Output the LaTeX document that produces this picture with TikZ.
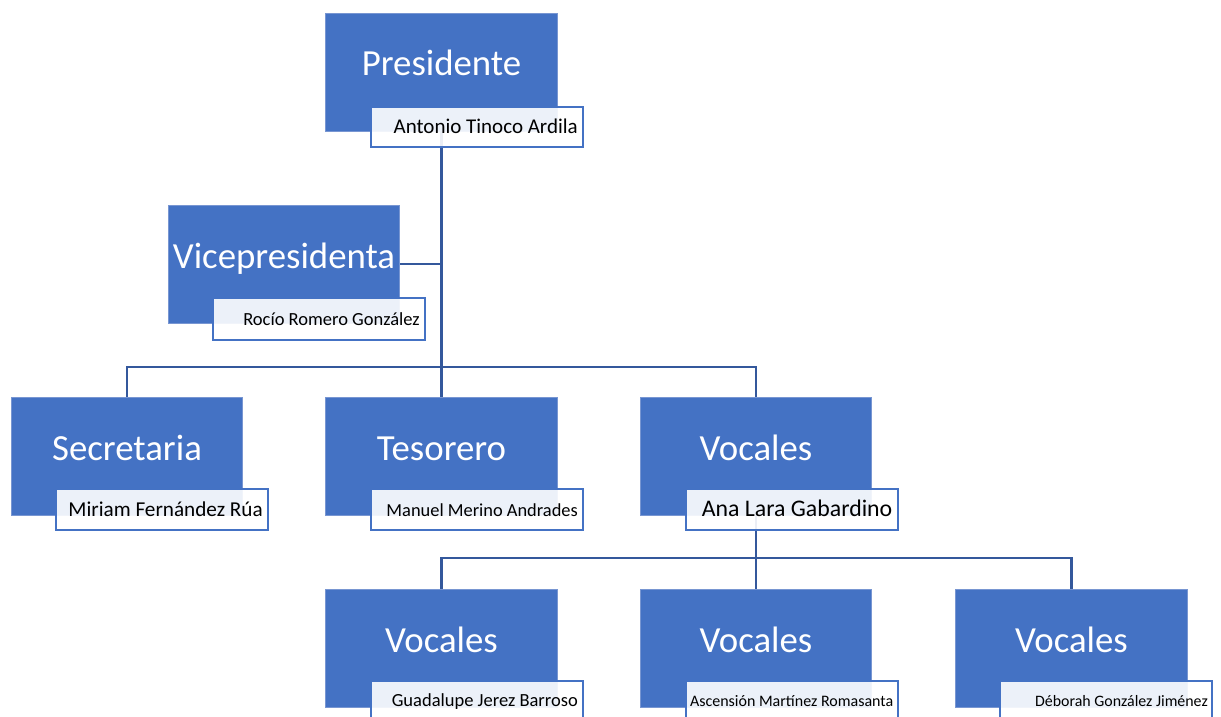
\documentclass[tikz,border=0pt]{standalone}
\usepackage{fontspec}
\setmainfont{Carlito}
\definecolor{boxblue}{RGB}{68,114,196}
\definecolor{boxedge}{RGB}{120,150,210}
\definecolor{connblue}{RGB}{52,88,156}
\tikzset{
  titlebox/.style={rectangle, fill=boxblue, draw=boxedge, line width=0.6pt, inner sep=0pt, outer sep=0pt, minimum width=231.5pt, minimum height=118pt},
  namebox/.style={rectangle, fill=white, fill opacity=0.9, draw=boxblue, line width=2pt, inner sep=0pt, outer sep=0pt, minimum width=212pt, minimum height=40.5pt},
  titletext/.style={text=white, inner sep=0pt, anchor=base, font=\fontsize{36.8pt}{40pt}\selectfont},
  nametext/.style={text=black, inner sep=0pt, anchor=base east},
  conn/.style={draw=connblue, line width=2.7pt}
}
\begin{document}
\begin{tikzpicture}[x=1pt,y=-1pt]
\useasboundingbox (0,0) rectangle (1221,717);
\clip (0,0) rectangle (1221,717);

% title boxes
\node[titlebox] (pres) at (441.5,72) {};
\node[titlebox] (vice) at (284,264) {};
\node[titlebox] (sec) at (127,456) {};
\node[titlebox] (tes) at (441.5,456) {};
\node[titlebox] (voc) at (756,456) {};
\node[titlebox] (v1) at (441.5,648) {};
\node[titlebox] (v2) at (756,648) {};
\node[titlebox] (v3) at (1071.5,648) {};

% connectors
\coordinate (b1) at (441.5,367);
\coordinate (b2) at (756,558);
\draw[conn] (pres.south) -- (b1);
\draw[conn] (vice.east) -- (vice.east -| pres.south);
\draw[conn] (b1) -| (sec.north);
\draw[conn] (b1) -| (voc.north);
\draw[conn] (b1) -- (tes.north);
\draw[conn] (voc.south) -- (b2);
\draw[conn] (b2) -| (v1.north);
\draw[conn] (b2) -| (v3.north);
\draw[conn] (b2) -- (v2.north);

% title texts
\node[titletext] (presT) at ([yshift=-63pt]pres.north) {Presidente};
\node[titletext] (viceT) at ([yshift=-63pt]vice.north) {Vicepresidenta};
\node[titletext] (secT) at ([yshift=-63pt]sec.north) {Secretaria};
\node[titletext] (tesT) at ([yshift=-63pt]tes.north) {Tesorero};
\node[titletext] (vocT) at ([yshift=-63pt]voc.north) {Vocales};
\node[titletext] (v1T) at ([yshift=-63pt]v1.north) {Vocales};
\node[titletext] (v2T) at ([yshift=-63pt]v2.north) {Vocales};
\node[titletext] (v3T) at ([yshift=-63pt]v3.north) {Vocales};

% name boxes
\node[namebox] (presN) at (477,127) {};
\node[namebox, minimum height=42pt] (viceN) at (319,318.5) {};
\node[namebox] (secN) at (162,509.5) {};
\node[namebox] (tesN) at (477,509.5) {};
\node[namebox] (vocN) at (791.5,509.5) {};
\node[namebox] (v1N) at (477,701) {};
\node[namebox] (v2N) at (791.5,701) {};
\node[namebox] (v3N) at (1106,701) {};

% name texts
\node[nametext, font=\fontsize{21pt}{24pt}\selectfont] (presL) at ([xshift=-5pt,yshift=-27pt]presN.north east) {Antonio Tinoco Ardila};
\node[nametext, font=\fontsize{18.5pt}{22pt}\selectfont] (viceL) at ([xshift=-5pt,yshift=-28pt]viceN.north east) {Rocío Romero González};
\node[nametext, font=\fontsize{21.2pt}{24pt}\selectfont] (secL) at ([xshift=-5pt,yshift=-27pt]secN.north east) {Miriam Fernández Rúa};
\node[nametext, font=\fontsize{18.4pt}{22pt}\selectfont] (tesL) at ([xshift=-5pt,yshift=-27pt]tesN.north east) {Manuel Merino Andrades};
\node[nametext, font=\fontsize{23.8pt}{27pt}\selectfont] (vocL) at ([xshift=-5pt,yshift=-27.5pt]vocN.north east) {Ana Lara Gabardino};
\node[nametext, font=\fontsize{18.5pt}{22pt}\selectfont] (v1L) at ([xshift=-5pt,yshift=-26pt]v1N.north east) {Guadalupe Jerez Barroso};
\node[nametext, font=\fontsize{16pt}{19pt}\selectfont] (v2L) at ([xshift=-4pt,yshift=-25.5pt]v2N.north east) {Ascensión Martínez Romasanta};
\node[nametext, font=\fontsize{15.9pt}{19pt}\selectfont] (v3L) at ([xshift=-4pt,yshift=-25.5pt]v3N.north east) {Déborah González Jiménez};
\end{tikzpicture}
\end{document}
